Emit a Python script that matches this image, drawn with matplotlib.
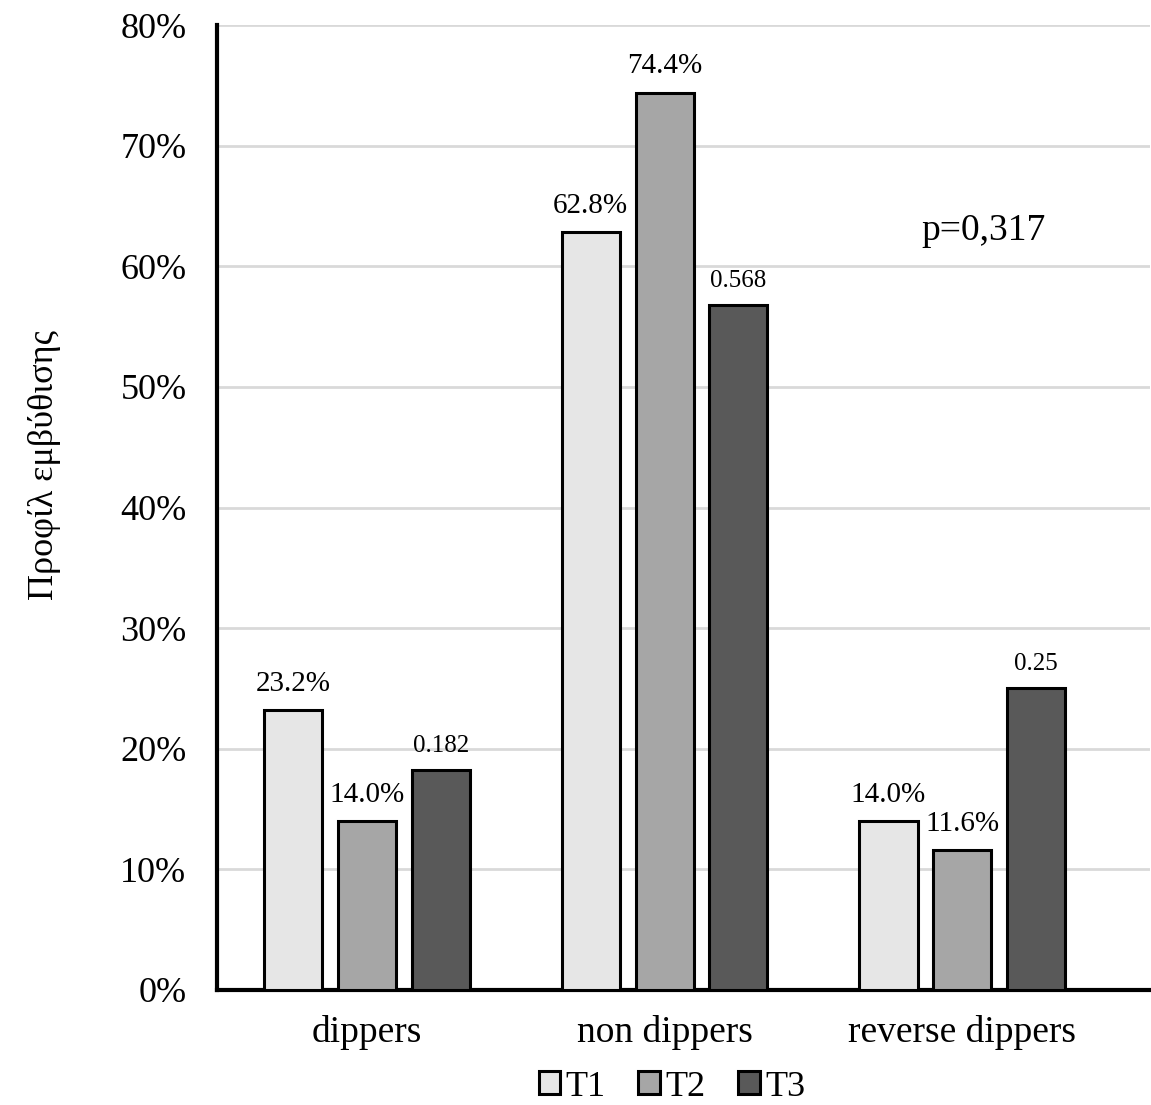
import numpy as np
import matplotlib.pyplot as plt

plt.rcParams['font.family'] = ['Liberation Serif', 'DejaVu Serif']

categories = ["dippers", "non dippers", "reverse dippers"]
series = ["T1", "T2", "T3"]
t1 = [23.2, 62.8, 14.0]
t2 = [14.0, 74.4, 11.6]
t3 = [18.2, 56.8, 25.0]
t1_labels = ["23.2%", "62.8%", "14.0%"]
t2_labels = ["14.0%", "74.4%", "11.6%"]
t3_labels = ["0.182", "0.568", "0.25"]
colors = ["#e6e6e6", "#a6a6a6", "#595959"]

fig = plt.figure(figsize=(11.51, 11.05), dpi=100)
ax = fig.add_axes([217/1151, 1 - 990/1105, (1150-217)/1151, (990-25)/1105])

x = np.arange(len(categories))
w = 0.195
step = 0.248
vals = [t1, t2, t3]
labs = [t1_labels, t2_labels, t3_labels]
for i in range(3):
    bars = ax.bar(x + (i-1)*step, vals[i], w, color=colors[i], edgecolor="black",
                  linewidth=2.2, label=series[i], zorder=3)
    fs = 18 if i == 2 else 21
    for b, s in zip(bars, labs[i]):
        ax.text(b.get_x() + b.get_width()/2, b.get_height() + 1.1, s,
                ha="center", va="bottom", fontsize=fs)

ax.set_ylim(0, 80)
ax.set_xlim(-0.503, 2.63)
ax.set_yticks(range(0, 81, 10))
ax.set_yticklabels([f"{v}%" for v in range(0, 81, 10)], fontsize=26)
ax.set_xticks(x)
ax.set_xticklabels(categories, fontsize=27)
ax.tick_params(axis="y", length=0, pad=22)
ax.tick_params(axis="x", length=0, pad=18)
ax.yaxis.grid(True, color="#d9d9d9", linewidth=2, zorder=0)
for s in ["top", "right"]:
    ax.spines[s].set_visible(False)
ax.spines["left"].set_linewidth(3)
ax.spines["bottom"].set_linewidth(3)

ax.text(2.07, 62.2, "p=0,317", fontsize=27, ha="center")
fig.text(45/1151, 1 - 465/1105, "Προφίλ εμβύθισης", rotation=90, fontsize=26,
         ha="center", va="center")

fig.legend(loc="center", bbox_to_anchor=(672/1151, 1 - 1087/1105), ncol=3,
           frameon=False, fontsize=26, handlelength=0.6, handleheight=0.6,
           handletextpad=0.15, columnspacing=0.9)

fig.savefig("out.png", dpi=100)
